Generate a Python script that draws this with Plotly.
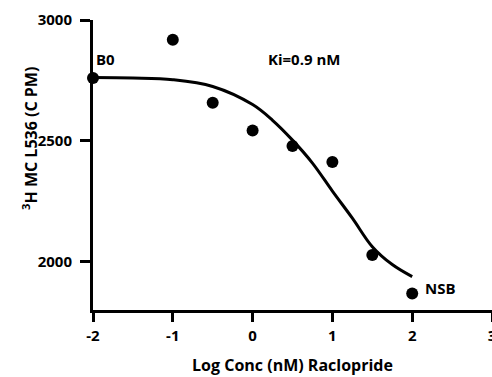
import plotly.graph_objects as go

# Measured data points
log_conc = [-2, -1, -0.5, 0, 0.5, 1, 1.5, 2]
cpm = [2760, 2918, 2658, 2543, 2479, 2412, 2028, 1868]

# Fitted curve
curve_x = [-2, -1.5, -1, -0.5, 0, 0.25, 0.5, 0.75, 1, 1.25, 1.5, 1.75, 2]
curve_y = [2762, 2760, 2753, 2725, 2650, 2585, 2503, 2408, 2292, 2180, 2062, 1988, 1938]

x_ticks = [-2, -1, 0, 1, 2, 3]
y_ticks = [2000, 2500, 3000]

FONT = "Open Sans"

fig = go.Figure()
fig.add_trace(go.Scatter(x=curve_x, y=curve_y, mode="lines",
                         line=dict(color="black", width=3, shape="spline"),
                         cliponaxis=False, showlegend=False))
fig.add_trace(go.Scatter(x=log_conc, y=cpm, mode="markers",
                         marker=dict(color="black", size=12),
                         cliponaxis=False, showlegend=False))

fig.add_annotation(x=-2, y=cpm[0], text="B0", showarrow=False, xanchor="left",
                   yanchor="bottom", xshift=1, yshift=7,
                   font=dict(family=FONT, size=15, color="black", weight="bold"))
fig.add_annotation(x=0.65, y=2838, text="Ki=0.9 nM", showarrow=False,
                   font=dict(family=FONT, size=15, color="black", weight="bold"))
fig.add_annotation(x=2, y=cpm[-1], text="NSB", showarrow=False, xanchor="left",
                   yanchor="middle", xshift=11, yshift=6,
                   font=dict(family=FONT, size=15, color="black", weight="bold"))
# y-axis title (placed off-centre like the reference)
fig.add_annotation(xref="paper", yref="paper", x=0, y=0.59, xshift=-77,
                   text="<sup>3</sup>H MC L536 (C PM)", textangle=-90, showarrow=False,
                   font=dict(family=FONT, size=16, color="black", weight="bold"))

fig.update_layout(
    width=492, height=377,
    margin=dict(l=93, r=0, t=20, b=67, autoexpand=False),
    plot_bgcolor="white", paper_bgcolor="white",
    font=dict(family=FONT, size=15, color="black", weight="bold"),
    xaxis=dict(range=[-2, 3], tickvals=x_ticks, ticktext=[str(v) for v in x_ticks],
               showgrid=False, zeroline=False, showline=True, linecolor="black",
               linewidth=3, ticks="outside", ticklen=9, tickwidth=3, automargin=False,
               tickcolor="black", ticklabelstandoff=1, ticklabeloverflow="allow",
               tickfont=dict(family=FONT, size=15, weight="bold"),
               title=dict(text="Log Conc (nM) Raclopride", standoff=16,
                          font=dict(family=FONT, size=16, weight="bold"))),
    yaxis=dict(range=[1800, 3000], tickvals=y_ticks, ticktext=[str(v) for v in y_ticks],
               showgrid=False, zeroline=False, showline=True, linecolor="black",
               linewidth=3, ticks="outside", ticklen=10, tickwidth=3, automargin=False,
               tickcolor="black", ticklabelstandoff=5, ticklabeloverflow="allow",
               tickfont=dict(family=FONT, size=15, weight="bold")),
)

fig.write_html("out.html")
